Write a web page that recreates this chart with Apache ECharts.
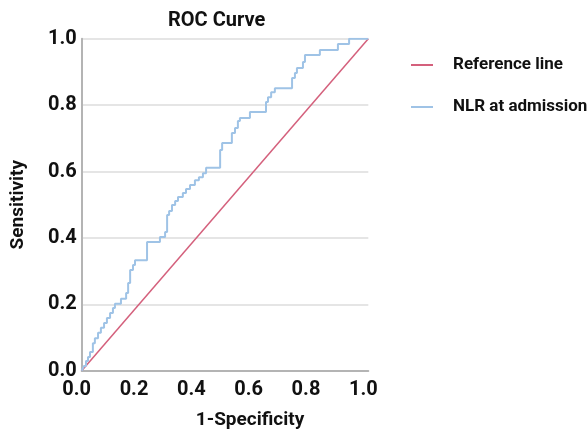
<!DOCTYPE html>
<html>
<head>
<meta charset="utf-8">
<script src="https://cdn.jsdelivr.net/npm/echarts@6/dist/echarts.min.js"></script>
<style>
  html, body { margin: 0; padding: 0; background: #fff; }
  #roc_chart { width: 588px; height: 432px; }
</style>
</head>
<body>
<div id="roc_chart"></div>
<script>
  // ROC 曲线数据（1-特异度 / 灵敏度），按阶梯顶点读出
  const nlrFpr = [
    0, 0.008, 0.015, 0.015, 0.022, 0.022, 0.029, 0.029, 0.039, 0.039,
    0.039, 0.046, 0.046, 0.057, 0.057, 0.067, 0.067, 0.078, 0.078, 0.088,
    0.088, 0.099, 0.099, 0.109, 0.109, 0.116, 0.116, 0.137, 0.137, 0.155,
    0.155, 0.162, 0.162, 0.169, 0.169, 0.179, 0.179, 0.186, 0.186, 0.228,
    0.228, 0.273, 0.273, 0.291, 0.291, 0.298, 0.298, 0.305, 0.305, 0.315,
    0.315, 0.326, 0.326, 0.336, 0.336, 0.353, 0.353, 0.364, 0.364, 0.378,
    0.378, 0.395, 0.395, 0.409, 0.409, 0.423, 0.423, 0.434, 0.434, 0.483,
    0.483, 0.490, 0.490, 0.524, 0.524, 0.535, 0.535, 0.545, 0.545, 0.552,
    0.552, 0.587, 0.587, 0.643, 0.643, 0.650, 0.650, 0.661, 0.661, 0.674,
    0.674, 0.734, 0.734, 0.744, 0.744, 0.751, 0.751, 0.772, 0.772, 0.779,
    0.779, 0.831, 0.831, 0.894, 0.894, 0.933, 0.933, 1
  ];
  const nlrTpr = [
    0, 0.014, 0.014, 0.029, 0.029, 0.041, 0.041, 0.056, 0.056, 0.068,
    0.083, 0.083, 0.098, 0.098, 0.114, 0.114, 0.129, 0.129, 0.144, 0.144,
    0.159, 0.159, 0.174, 0.174, 0.189, 0.189, 0.202, 0.202, 0.217, 0.217,
    0.234, 0.234, 0.264, 0.264, 0.303, 0.303, 0.318, 0.318, 0.333, 0.333,
    0.388, 0.388, 0.403, 0.403, 0.418, 0.418, 0.469, 0.469, 0.481, 0.481,
    0.499, 0.499, 0.511, 0.511, 0.523, 0.523, 0.535, 0.535, 0.547, 0.547,
    0.559, 0.559, 0.574, 0.574, 0.583, 0.583, 0.595, 0.595, 0.611, 0.611,
    0.665, 0.665, 0.686, 0.686, 0.716, 0.716, 0.731, 0.731, 0.752, 0.752,
    0.761, 0.761, 0.779, 0.779, 0.809, 0.809, 0.824, 0.824, 0.839, 0.839,
    0.851, 0.851, 0.882, 0.882, 0.897, 0.897, 0.912, 0.912, 0.930, 0.930,
    0.951, 0.951, 0.966, 0.966, 0.984, 0.984, 1, 1
  ];
  const refFpr = [0, 1];
  const refTpr = [0, 1];
  const seriesNames = ['Reference line', 'NLR at admission'];

  const FONT = 'Roboto, "Noto Sans", sans-serif';

  function zipPts(xs, ys) {
    return xs.map((x, i) => [x, ys[i]]);
  }

  function tickLabel(v) {
    return v.toFixed(1);
  }

  let option = {
    animation: false,
    backgroundColor: '#fff',
    title: {
      text: 'ROC Curve',
      left: 168,
      top: 11,
      padding: 0,
      textStyle: { fontFamily: FONT, fontSize: 20, fontWeight: 'bold', color: '#111' }
    },
    legend: { // 图例
      orient: 'vertical',
      left: 411,
      top: 55,
      padding: 0,
      itemGap: 22,
      itemWidth: 22,
      itemHeight: 2,
      data: [
        { name: seriesNames[0], icon: 'rect' },
        { name: seriesNames[1], icon: 'rect' }
      ],
      textStyle: {
        fontFamily: FONT, fontSize: 17, fontWeight: 'bold', color: '#111',
        lineHeight: 20, padding: [0, 0, 0, 15]
      }
    },
    grid: {
      left: 81.7, right: 219.7, top: 38.7, bottom: 61.3,
      outerBoundsMode: 'none'
    },
    xAxis: {
      type: 'value',
      min: 0, max: 1, interval: 0.2,
      name: '1-Specificity',
      nameLocation: 'middle',
      nameGap: 40,
      nameTextStyle: {
        fontFamily: FONT, fontSize: 19, fontWeight: 'bold', color: '#111',
        padding: [0, 0, 0, 50]
      },
      axisLine: { lineStyle: { color: '#b4b4b4', width: 2 } },
      axisTick: { show: false },
      splitLine: { show: false },
      axisLabel: {
        formatter: tickLabel, margin: 9,
        padding: [0, 10, 0, 0],
        fontFamily: FONT, fontSize: 20, fontWeight: 'bold', color: '#111'
      }
    },
    yAxis: {
      type: 'value',
      min: 0, max: 1, interval: 0.2,
      name: 'Sensitivity',
      nameLocation: 'middle',
      nameGap: 54,
      nameTextStyle: { fontFamily: FONT, fontSize: 19, fontWeight: 'bold', color: '#111' },
      axisLine: { show: true, lineStyle: { color: '#b4b4b4', width: 2 } },
      axisTick: { show: false },
      splitLine: { lineStyle: { color: '#dcdcdc', width: 1.5 } },
      axisLabel: {
        formatter: tickLabel, margin: 5,
        fontFamily: FONT, fontSize: 20, fontWeight: 'bold', color: '#111'
      }
    },
    series: [{
      name: seriesNames[0],
      type: 'line',
      data: zipPts(refFpr, refTpr),
      symbol: 'none',
      itemStyle: { color: '#d4607c' },
      lineStyle: { color: '#d4607c', width: 1.5 },
      z: 2
    }, {
      name: seriesNames[1],
      type: 'line',
      data: zipPts(nlrFpr, nlrTpr),
      symbol: 'none',
      itemStyle: { color: '#9fc3e6' },
      lineStyle: { color: '#9fc3e6', width: 2 },
      z: 3
    }]
  };

  const chartEl = document.getElementById('roc_chart');
  echarts.init(chartEl).setOption(option);
</script>
</body>
</html>
